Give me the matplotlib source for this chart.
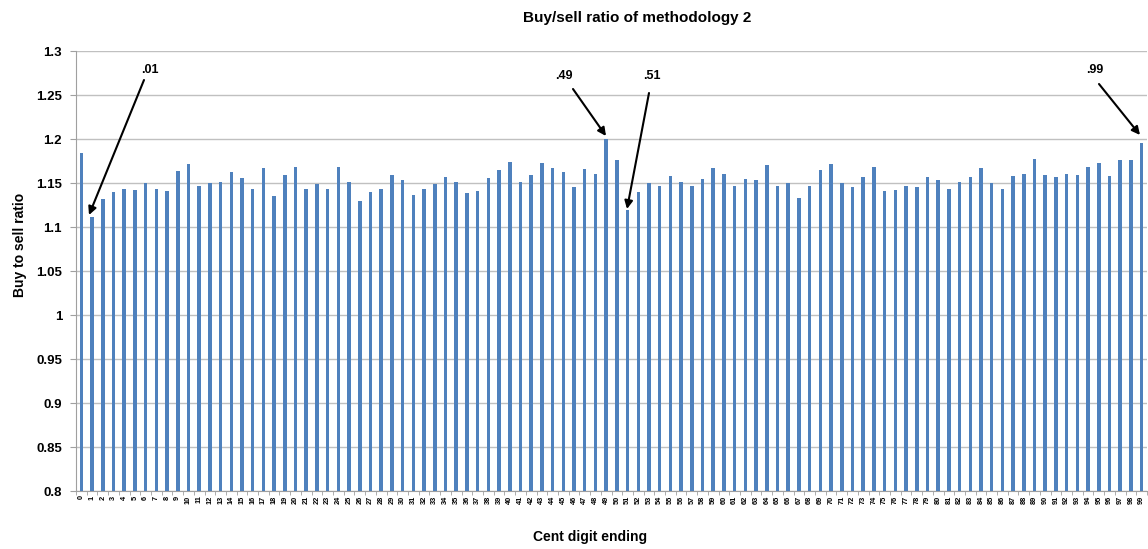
import matplotlib
matplotlib.use("Agg")
import matplotlib.pyplot as plt
import numpy as np

plt.rcParams['font.family'] = ['Liberation Sans', 'DejaVu Sans']

cents = list(range(100))
ratios = [
    1.185, 1.112, 1.132, 1.140, 1.144, 1.142, 1.150, 1.143, 1.141, 1.164,
    1.172, 1.147, 1.150, 1.151, 1.163, 1.156, 1.143, 1.167, 1.136, 1.159,
    1.168, 1.144, 1.149, 1.144, 1.169, 1.152, 1.130, 1.140, 1.144, 1.159,
    1.154, 1.137, 1.144, 1.149, 1.157, 1.152, 1.139, 1.141, 1.156, 1.165,
    1.174, 1.152, 1.159, 1.173, 1.167, 1.163, 1.146, 1.166, 1.161, 1.200,
    1.177, 1.120, 1.140, 1.150, 1.147, 1.158, 1.151, 1.147, 1.155, 1.167,
    1.161, 1.147, 1.155, 1.154, 1.171, 1.147, 1.150, 1.133, 1.147, 1.165,
    1.172, 1.150, 1.146, 1.157, 1.169, 1.141, 1.142, 1.147, 1.146, 1.157,
    1.154, 1.144, 1.152, 1.157, 1.167, 1.150, 1.144, 1.158, 1.161, 1.178,
    1.160, 1.157, 1.161, 1.160, 1.169, 1.173, 1.158, 1.176, 1.177, 1.196,
]
tick_labels = [str(c) for c in cents]
y_ticks = [0.8, 0.85, 0.9, 0.95, 1.0, 1.05, 1.1, 1.15, 1.2, 1.25, 1.3]
y_tick_labels = ['0.8', '0.85', '0.9', '0.95', '1', '1.05', '1.1', '1.15', '1.2', '1.25', '1.3']
callouts = ['.01', '.49', '.51', '.99']

W, H = 1148, 549
fig = plt.figure(figsize=(W / 100, H / 100), dpi=100)
ax = fig.add_axes([76 / W, 1 - 491.3 / H, (1147 - 76) / W, (491.3 - 51.3) / H])

ax.bar(cents, ratios, width=0.33, color='#4F81BD', zorder=3)
ax.set_xlim(-0.5, 99.5)
ax.set_ylim(0.8, 1.3)
ax.set_yticks(y_ticks)
ax.set_yticklabels(y_tick_labels, fontsize=9.5, fontweight='bold')
ax.set_xticks(cents)
ax.set_xticklabels(tick_labels, rotation=90, fontsize=5.3, fontweight='bold')
ax.set_xticks(np.arange(-0.5, 100, 1), minor=True)
ax.tick_params(axis='x', which='major', length=0, pad=3)
ax.tick_params(axis='x', which='minor', length=3, color='#a0a0a0')
ax.tick_params(axis='y', length=4, color='#a0a0a0', pad=6)
ax.grid(axis='y', color='#c0c0c0', linewidth=1, zorder=0)
for s in ['top', 'right']:
    ax.spines[s].set_visible(False)
for s in ['left', 'bottom']:
    ax.spines[s].set_color('#a0a0a0')

fig.text(637 / W, 1 - 18 / H, 'Buy/sell ratio of methodology 2', ha='center', va='center',
         fontsize=11, fontweight='bold')
fig.text(590 / W, 1 - 537 / H, 'Cent digit ending', ha='center', va='center',
         fontsize=10, fontweight='bold')
fig.text(20 / W, 1 - 245 / H, 'Buy to sell ratio', ha='center', va='center',
         rotation=90, fontsize=10, fontweight='bold')

# callout labels and arrows (pixel positions)
label_pos = [(150, 70), (564, 76), (652, 76), (1095, 70)]
arrow_start = [(144, 80), (573, 89), (649, 93), (1099, 84)]
arrow_tip = [(89, 215), (606, 136), (627, 209), (1140, 135)]
for lab, (tx, ty), (sx, sy), (ex, ey) in zip(callouts, label_pos, arrow_start, arrow_tip):
    fig.text(tx / W, 1 - ty / H, lab, ha='center', va='center', fontsize=9, fontweight='bold')
    ax.annotate('', xy=(ex, H - ey), xycoords='figure pixels',
                xytext=(sx, H - sy), textcoords='figure pixels',
                arrowprops=dict(arrowstyle='-|>', color='black', lw=1.5,
                                mutation_scale=12, shrinkA=0, shrinkB=0))

fig.savefig('out.png', dpi=100)
